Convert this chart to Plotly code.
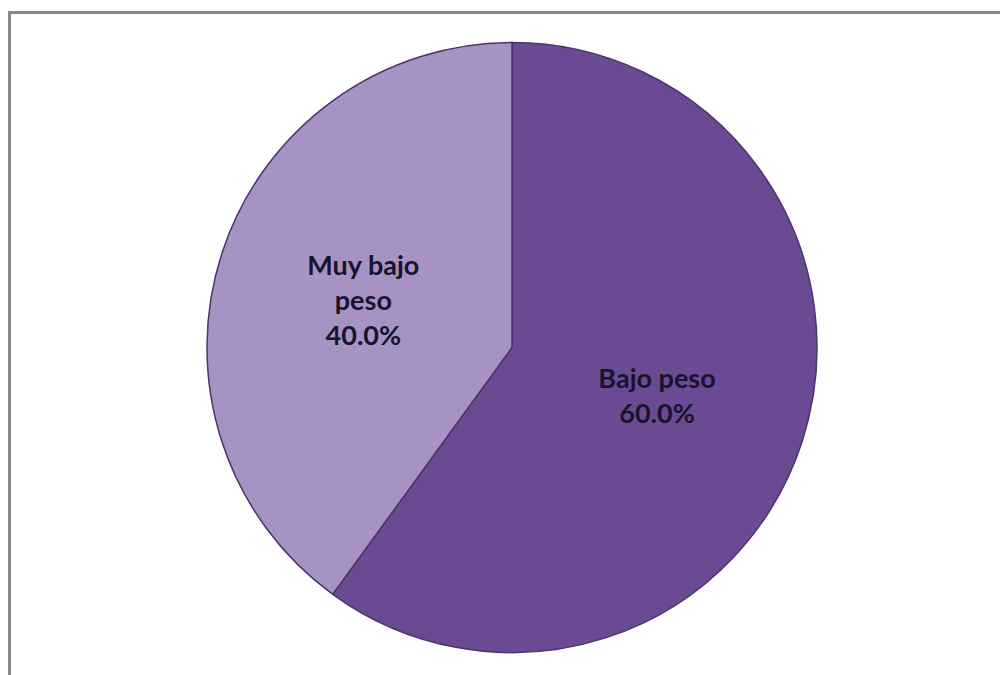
import plotly.graph_objects as go

categories = ["Bajo peso", "Muy bajo peso"]
values = [60.0, 40.0]
label_text = ["Bajo peso<br>60.0%", "Muy bajo<br>peso<br>40.0%"]
colors = ["#6a4b93", "#a693c4"]

fig = go.Figure(go.Pie(
    labels=categories,
    values=values,
    text=label_text,
    textinfo="text",
    textposition="inside",
    insidetextorientation="horizontal",
    sort=False,
    direction="clockwise",
    rotation=0,
    marker=dict(colors=colors, line=dict(color="#4b3569", width=1.5)),
    textfont=dict(family="Lato", size=27, color="#17142b", weight="bold"),
    domain=dict(x=[0.207, 0.817], y=[0.0296, 0.9407]),
    showlegend=False,
    hoverinfo="label+percent",
))

fig.update_layout(
    width=1000, height=675,
    margin=dict(l=0, r=0, t=0, b=0),
    paper_bgcolor="white",
    plot_bgcolor="white",
    shapes=[dict(type="rect", xref="paper", yref="paper",
                 x0=0.0095, x1=1.05, y0=-0.05, y1=1 - 12.5 / 675,
                 line=dict(color="#8a8a8a", width=3), fillcolor="rgba(0,0,0,0)",
                 layer="above")],
)

fig.write_html("out.html")
